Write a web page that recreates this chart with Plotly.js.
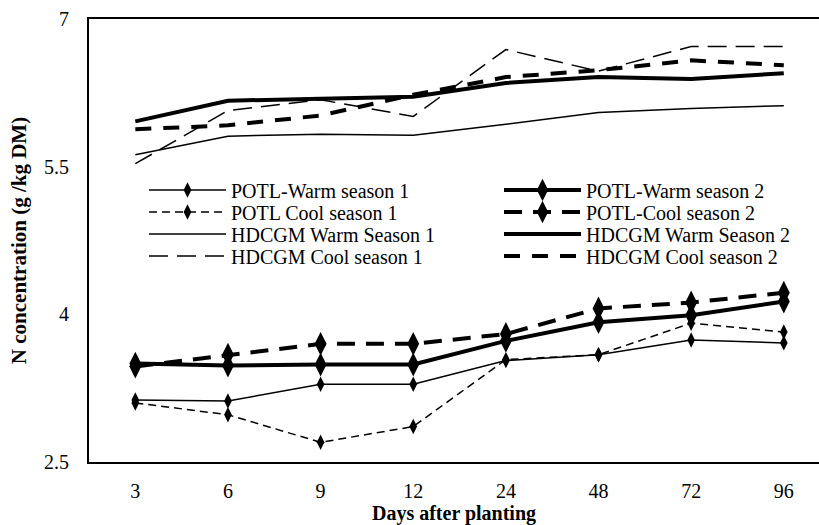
<!DOCTYPE html>
<html>
<head>
<meta charset="utf-8">
<script src="https://cdn.plot.ly/plotly-3.0.1.min.js"></script>
<style>html,body{margin:0;padding:0;overflow:hidden;background:#fff}</style>
</head>
<body>
<div id="chart" style="width:819px;height:525px"></div>
<script>
// ---- data ----
var categories = ['3', '6', '9', '12', '24', '48', '72', '96'];

var potlWarm1  = [3.13, 3.12, 3.29, 3.29, 3.53, 3.59, 3.74, 3.71];
var potlWarm2  = [3.50, 3.48, 3.49, 3.49, 3.73, 3.92, 3.99, 4.13];
var potlCool1  = [3.10, 2.98, 2.70, 2.86, 3.54, 3.59, 3.91, 3.82];
var potlCool2  = [3.47, 3.59, 3.70, 3.70, 3.80, 4.06, 4.12, 4.22];
var hdcgmWarm1 = [5.62, 5.81, 5.83, 5.82, 5.93, 6.05, 6.09, 6.12];
var hdcgmWarm2 = [5.96, 6.17, 6.19, 6.21, 6.35, 6.41, 6.39, 6.45];
var hdcgmCool1 = [5.53, 6.07, 6.18, 6.01, 6.69, 6.47, 6.72, 6.72];
var hdcgmCool2 = [5.88, 5.92, 6.02, 6.23, 6.41, 6.48, 6.58, 6.53];

var seriesNames = [
  'POTL-Warm season 1', 'POTL-Warm season 2',
  'POTL Cool season 1', 'POTL-Cool season 2',
  'HDCGM Warm Season 1', 'HDCGM Warm Season 2',
  'HDCGM Cool season 1', 'HDCGM Cool season 2'
];

var yTickVals = [2.5, 4, 5.5, 7];
var yTickText = ['2.5', '4', '5.5', '7'];

// ---- layout helpers ----
var W = 819, H = 525;
var M = {l: 89, r: 0, t: 19, b: 63};
var PW = W - M.l - M.r, PH = H - M.t - M.b;
function px(x) { return (x - M.l) / PW; }
function py(y) { return (M.t + PH - y) / PH; }

var FONT = 'Liberation Serif, Times New Roman, serif';
var BLK = '#000';

function mk(name, y, lw, dash, msize, legendId) {
  var t = {
    type: 'scatter', mode: msize ? 'lines+markers' : 'lines',
    x: categories, y: y, name: name,
    line: {color: BLK, width: lw, dash: dash},
    legend: legendId, showlegend: true, hoverinfo: 'skip'
  };
  if (msize) t.marker = {symbol: 'diamond-tall', size: msize, color: BLK};
  return t;
}

var traces = [
  mk(seriesNames[0], potlWarm1, 1.5, 'solid', 11, 'legend'),
  mk(seriesNames[1], potlWarm2, 4, 'solid', 17, 'legend2'),
  mk(seriesNames[2], potlCool1, 1.5, '8px,5px', 11, 'legend3'),
  mk(seriesNames[3], potlCool2, 4, '18px,11px', 17, 'legend4'),
  mk(seriesNames[4], hdcgmWarm1, 1.5, 'solid', 0, 'legend5'),
  mk(seriesNames[5], hdcgmWarm2, 4, 'solid', 0, 'legend6'),
  mk(seriesNames[6], hdcgmCool1, 1.5, '19px,9px', 0, 'legend7'),
  mk(seriesNames[7], hdcgmCool2, 4, '16px,12px', 0, 'legend8')
];

var legendCols = [152, 507];
var legendRows = [190, 212, 234, 256];
function legendAt(i) {
  return {
    x: px(legendCols[i % 2] - 8), y: py(legendRows[Math.floor(i / 2)]),
    xanchor: 'left', yanchor: 'middle',
    bgcolor: 'rgba(0,0,0,0)', borderwidth: 0,
    font: {family: FONT, size: 20, color: BLK},
    itemwidth: 77, itemclick: false, itemdoubleclick: false
  };
}

var layout = {
  width: W, height: H,
  margin: M,
  paper_bgcolor: '#fff', plot_bgcolor: '#fff',
  font: {family: FONT, size: 20, color: BLK},
  xaxis: {
    type: 'category', categoryarray: categories, categoryorder: 'array',
    range: [-0.5, 7.38],
    showline: true, linecolor: BLK, linewidth: 2, mirror: true,
    ticks: '', showgrid: false, zeroline: false,
    tickfont: {family: FONT, size: 20, color: BLK},
    ticklabelstandoff: 10,
    title: {text: '<b>Days after planting</b>', font: {family: FONT, size: 20, color: BLK}, standoff: 4}
  },
  yaxis: {
    range: [2.5, 7],
    tickmode: 'array', tickvals: yTickVals, ticktext: yTickText,
    showline: true, linecolor: BLK, linewidth: 2,
    ticks: '', showgrid: false, zeroline: false,
    tickfont: {family: FONT, size: 20, color: BLK},
    ticklabelstandoff: 14,
    title: {text: '<b>N concentration (g /kg DM)</b>', font: {family: FONT, size: 21, color: BLK}, standoff: 12}
  },
  showlegend: true
};
layout.legend = legendAt(0);
for (var i = 1; i < 8; i++) layout['legend' + (i + 1)] = legendAt(i);

Plotly.newPlot('chart', traces, layout, {staticPlot: true, displayModeBar: false});
</script>
</body>
</html>
